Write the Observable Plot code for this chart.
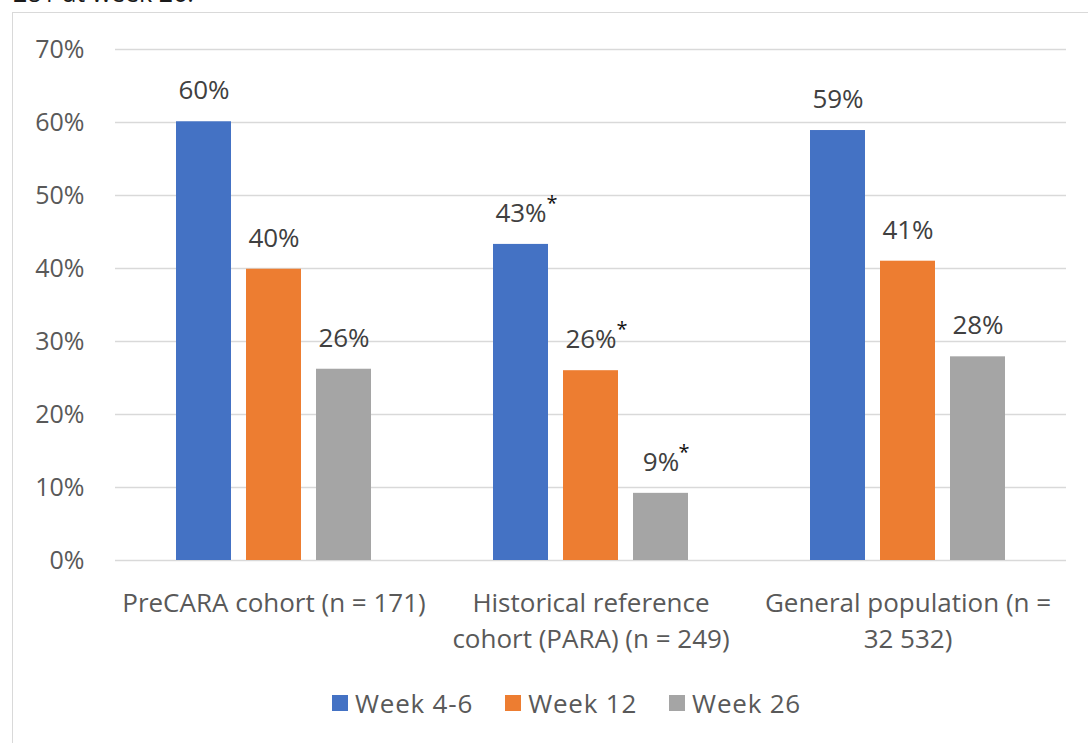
<!DOCTYPE html>
<html>
<head>
<meta charset="utf-8">
<script src="https://cdn.jsdelivr.net/npm/d3@7"></script>
<script src="https://cdn.jsdelivr.net/npm/@observablehq/plot@0.6"></script>
<style>
  html, body { margin: 0; padding: 0; background: #fff; overflow: hidden; }
  body { width: 1088px; height: 743px; position: relative; font-family: "Open Sans", sans-serif; }
  #caption { position: absolute; left: 13px; top: -20px; font-size: 25px; line-height: 1; color: #1a1a1a; white-space: nowrap; }
  #frame { position: absolute; left: 12px; top: 12px; width: 1200px; height: 800px; border-left: 1.5px solid #d9d9d9; border-top: 1.5px solid #d9d9d9; }
  #chart { position: absolute; left: 0; top: 0; }
  #legend { position: absolute; left: 332px; top: 685px; display: flex; align-items: center; font-size: 26px; letter-spacing: 0.8px; color: #595959; white-space: nowrap; }
  .item { display: flex; align-items: center; margin-right: 32px; }
  .sw { width: 16px; height: 16px; margin-right: 7px; }
</style>
</head>
<body>
<div id="caption">281 at week 26.</div>
<div id="frame"></div>
<div id="chart"></div>
<div id="legend"></div>
<script>
const groups = ["PreCARA cohort (n = 171)", "Historical reference cohort (PARA) (n = 249)", "General population (n = 32 532)"];
const groupLabels = ["PreCARA cohort (n = 171)", "Historical reference\ncohort (PARA) (n = 249)", "General population (n =\n32 532)"];
const weeks = ["Week 4-6", "Week 12", "Week 26"];
const colors = ["#4472C4", "#ED7D31", "#A5A5A5"];
const week46 = [60.1, 43.3, 58.9];
const week12 = [39.9, 26.0, 41.0];
const week26 = [26.2, 9.2, 27.9];
const significant = [false, true, false]; // asterisk marks per group
const yTicks = [0, 10, 20, 30, 40, 50, 60, 70];

const series = [week46, week12, week26];
const data = [];
groups.forEach((g, gi) => {
  weeks.forEach((w, wi) => {
    const v = series[wi][gi];
    data.push({group: g, week: w, value: v, label: Math.round(v) + "%", sig: significant[gi]});
  });
});
const sigWide = data.filter(d => d.sig && d.label.length >= 3);
const sigNarrow = data.filter(d => d.sig && d.label.length < 3);

const chart = Plot.plot({
  width: 1088,
  height: 670,
  marginLeft: 114,
  marginRight: 21,
  marginTop: 49,
  marginBottom: 110,
  style: {fontFamily: "Open Sans", fontSize: "26px", color: "#595959", background: "transparent"},
  fx: {domain: groups, padding: 0, label: null, axis: null},
  x: {domain: weeks, axis: null, paddingInner: 0.22, paddingOuter: 0.863},
  y: {domain: [0, 70], label: null, axis: null},
  color: {domain: weeks, range: colors},
  marks: [
    Plot.gridY(yTicks, {stroke: "#d9d9d9", strokeOpacity: 1, strokeWidth: 1.5}),
    Plot.axisY(yTicks, {tickSize: 0, tickPadding: 31, tickFormat: d => d + "%", fontSize: 25, fill: "#595959", label: null}),
    Plot.axisFx({anchor: "bottom", tickSize: 0, tickPadding: 26, lineHeight: 1.38, lineAnchor: "top", fontSize: 26, fill: "#595959", label: null,
      tickFormat: d => groupLabels[groups.indexOf(d)]}),
    Plot.barY(data, {fx: "group", x: "week", y: "value", fill: "week"}),
    Plot.text(data, {fx: "group", x: "week", y: "value", text: "label", dy: -31, fontSize: 26, fill: "#404040"}),
    Plot.text(sigWide, {fx: "group", x: "week", y: "value", text: () => "*", dx: 31, dy: -41, fontSize: 20, fill: "#111"}),
    Plot.text(sigNarrow, {fx: "group", x: "week", y: "value", text: () => "*", dx: 23, dy: -41, fontSize: 20, fill: "#111"})
  ]
});
document.getElementById("chart").appendChild(chart);

const legend = document.getElementById("legend");
weeks.forEach((w, i) => {
  const item = document.createElement("div");
  item.className = "item";
  const sw = document.createElement("div");
  sw.className = "sw";
  sw.style.background = colors[i];
  const t = document.createElement("span");
  t.textContent = w;
  item.appendChild(sw);
  item.appendChild(t);
  legend.appendChild(item);
});
</script>
</body>
</html>
